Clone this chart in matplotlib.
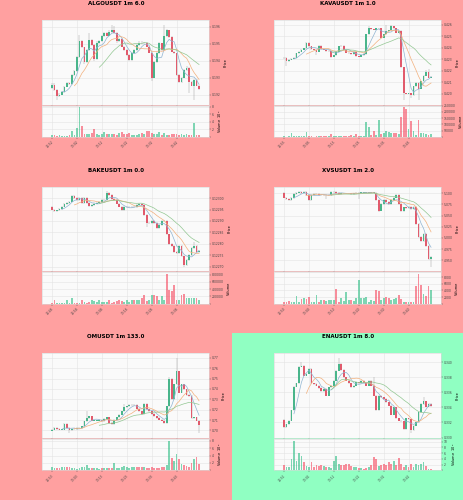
import numpy as np
import pandas as pd
import matplotlib
matplotlib.use("Agg")
import matplotlib.pyplot as plt
from matplotlib.ticker import MultipleLocator, FuncFormatter, FormatStrFormatter

# ---- ALGOUSDT ----
algo_open0 = 0.1924
algo_close = [0.1926, 0.19228, 0.19194, 0.192, 0.19214, 0.19248, 0.19268, 0.19264, 0.19314, 0.19338,
              0.1942, 0.19514, 0.1948, 0.19394, 0.19464, 0.1952, 0.19494, 0.19408, 0.19508, 0.19514,
              0.19544, 0.19564, 0.19548, 0.19572, 0.19584, 0.19564, 0.19514, 0.19528, 0.19484, 0.19464,
              0.19434, 0.19404, 0.19444, 0.19464, 0.19494, 0.19508, 0.19504, 0.19508, 0.19484, 0.19448,
              0.193, 0.19394, 0.19444, 0.19504, 0.19464, 0.19544, 0.1958, 0.1954, 0.19454, 0.19444,
              0.19314, 0.19274, 0.193, 0.19344, 0.1936, 0.19274, 0.19254, 0.19288, 0.19254, 0.19234]
algo_high = [0.19268, 0.19268, 0.19232, 0.19208, 0.1922, 0.19254, 0.19274, 0.19276, 0.1932, 0.19346,
             0.19428, 0.1955, 0.19524, 0.19484, 0.1947, 0.19566, 0.19526, 0.195, 0.19514, 0.1952,
             0.1955, 0.1957, 0.19572, 0.1958, 0.19614, 0.19604, 0.1957, 0.19536, 0.19532, 0.1949,
             0.19468, 0.1944, 0.1945, 0.1947, 0.195, 0.19514, 0.19514, 0.19512, 0.19512, 0.1949,
             0.19452, 0.194, 0.1945, 0.1951, 0.19508, 0.19614, 0.19586, 0.19584, 0.19544, 0.1946,
             0.19448, 0.1932, 0.19306, 0.1935, 0.1937, 0.19364, 0.1928, 0.19294, 0.19292, 0.19258]
algo_low = [0.19232, 0.1922, 0.19168, 0.19186, 0.19196, 0.1921, 0.19244, 0.1926, 0.1926, 0.1931,
            0.19334, 0.19414, 0.19476, 0.19384, 0.19388, 0.1946, 0.19488, 0.194, 0.19404, 0.19502,
            0.1951, 0.1954, 0.19544, 0.19544, 0.19566, 0.1956, 0.19508, 0.1951, 0.1948, 0.1946,
            0.1943, 0.194, 0.194, 0.1944, 0.1946, 0.1949, 0.195, 0.195, 0.1948, 0.19444,
            0.1928, 0.19296, 0.1939, 0.1944, 0.1946, 0.1946, 0.1954, 0.19536, 0.1945, 0.1944,
            0.1931, 0.1927, 0.1927, 0.19296, 0.1934, 0.1921, 0.1925, 0.1917, 0.1925, 0.1923]
algo_vol = [0.4e5, 0.5e5, 0.3e5, 0.5e5, 0.3e5, 0.2e5, 0.3e5, 0.4e5, 1.6e5, 0.6e5,
            2.5e5, 7.8e5, 2.9e5, 0.9e5, 0.9e5, 0.8e5, 1.0e5, 2.1e5, 0.8e5, 0.6e5,
            0.9e5, 1.2e5, 0.8e5, 0.7e5, 0.7e5, 0.8e5, 0.6e5, 1.0e5, 1.2e5, 0.8e5,
            0.8e5, 1.0e5, 0.6e5, 0.5e5, 0.5e5, 0.9e5, 1.1e5, 0.7e5, 1.5e5, 1.6e5,
            1.1e5, 0.9e5, 0.7e5, 1.2e5, 0.6e5, 1.0e5, 0.6e5, 0.6e5, 0.8e5, 0.9e5,
            0.8e5, 0.6e5, 0.8e5, 0.6e5, 0.8e5, 0.5e5, 0.5e5, 3.6e5, 0.4e5, 0.4e5]
algo_times = ["12:52", "13:02", "13:12", "13:22", "13:32", "13:42"]

# ---- KAVAUSDT ----
kava_open0 = 0.4231
kava_close = [0.42314, 0.42281, 0.42296, 0.42305, 0.42314, 0.4235, 0.42365, 0.4238, 0.42395, 0.4244,
              0.4241, 0.42386, 0.4238, 0.42365, 0.42416, 0.42386, 0.4238, 0.4237, 0.42374, 0.4232,
              0.42335, 0.42365, 0.4241, 0.42416, 0.4238, 0.42356, 0.4235, 0.42344, 0.42365, 0.42326,
              0.4232, 0.42335, 0.42344, 0.42515, 0.42566, 0.4256, 0.42554, 0.42566, 0.42566, 0.42485,
              0.42515, 0.42545, 0.4255, 0.42584, 0.42566, 0.4253, 0.42545, 0.4223, 0.42005, 0.42,
              0.42005, 0.4199, 0.42065, 0.42095, 0.42044, 0.4211, 0.42155, 0.42185, 0.4214, 0.42146]
kava_high = [0.4232, 0.42318, 0.42302, 0.4231, 0.4232, 0.42356, 0.4237, 0.42386, 0.424, 0.42448,
             0.42446, 0.42415, 0.4239, 0.42384, 0.42422, 0.4242, 0.4239, 0.42384, 0.4238, 0.42378,
             0.4234, 0.4237, 0.42416, 0.4242, 0.4242, 0.42384, 0.4236, 0.42354, 0.4237, 0.4237,
             0.4233, 0.4234, 0.4235, 0.4252, 0.4259, 0.4257, 0.42564, 0.4257, 0.4257, 0.4257,
             0.4252, 0.42595, 0.42556, 0.426, 0.4259, 0.4257, 0.4255, 0.4255, 0.42235, 0.4201,
             0.4201, 0.4201, 0.4207, 0.421, 0.421, 0.42115, 0.4216, 0.4221, 0.42215, 0.4215]
kava_low = [0.423, 0.42245, 0.42276, 0.4229, 0.423, 0.4231, 0.42345, 0.4236, 0.42376, 0.4239,
            0.42404, 0.4238, 0.42376, 0.42336, 0.4236, 0.4238, 0.42376, 0.42366, 0.42366, 0.42314,
            0.42316, 0.4233, 0.4236, 0.42404, 0.42376, 0.4235, 0.42346, 0.4234, 0.4234, 0.4232,
            0.42316, 0.42316, 0.4233, 0.4234, 0.4251, 0.42554, 0.4255, 0.4255, 0.4256, 0.4248,
            0.4248, 0.4251, 0.4254, 0.42546, 0.4256, 0.42526, 0.42526, 0.42225, 0.41945, 0.41995,
            0.41995, 0.4196, 0.41985, 0.4206, 0.4195, 0.4204, 0.42106, 0.4215, 0.42136, 0.42136]
kava_vol = [5000, 3000, 5000, 30000, 8000, 6000, 5000, 8000, 5000, 36000,
            6000, 8000, 3000, 10000, 8000, 5000, 6000, 10000, 8000, 26000,
            5000, 6000, 6000, 5000, 8000, 5000, 10000, 12000, 8000, 20000,
            6000, 8000, 5000, 120000, 82000, 15000, 51000, 13000, 136000, 26000,
            31000, 51000, 36000, 31000, 33000, 31000, 26000, 160000, 236000, 223000,
            64000, 128000, 51000, 18000, 136000, 31000, 31000, 26000, 18000, 26000]
kava_times = ["12:55", "13:05", "13:15", "13:25", "13:35", "13:45"]

# ---- BAKEUSDT ----
bake_open0 = 0.122961
bake_close = [0.12295, 0.122943, 0.122946, 0.122954, 0.122963, 0.122973, 0.122979, 0.122985, 0.12301, 0.123,
              0.122991, 0.123, 0.12298, 0.123, 0.12298, 0.122966, 0.12297, 0.122976, 0.12298, 0.122985,
              0.12299, 0.122993, 0.123023, 0.123014, 0.122995, 0.12299, 0.122976, 0.122963, 0.122946, 0.12296,
              0.12296, 0.12296, 0.122963, 0.12296, 0.12297, 0.122976, 0.12297, 0.122925, 0.12289, 0.12289,
              0.1229, 0.12289, 0.122871, 0.122883, 0.1229, 0.122901, 0.122841, 0.1228, 0.12279, 0.122763,
              0.12276, 0.12279, 0.122745, 0.12271, 0.12273, 0.12275, 0.122781, 0.12279, 0.122763, 0.12277]
bake_high = [0.122966, 0.122954, 0.12295, 0.122958, 0.122967, 0.122977, 0.122983, 0.122989, 0.123015, 0.123014,
             0.123004, 0.123004, 0.123004, 0.123004, 0.123004, 0.122984, 0.122974, 0.12298, 0.122984, 0.122989,
             0.122994, 0.122997, 0.12303, 0.123027, 0.123018, 0.122999, 0.122994, 0.12298, 0.122967, 0.122964,
             0.122964, 0.122964, 0.122967, 0.122967, 0.122974, 0.12298, 0.12298, 0.122974, 0.122929, 0.122894,
             0.122904, 0.122904, 0.122894, 0.122887, 0.122904, 0.122905, 0.122905, 0.122845, 0.122804, 0.122794,
             0.122767, 0.122794, 0.122794, 0.122749, 0.122734, 0.122754, 0.122785, 0.12281, 0.122794, 0.122774]
bake_low = [0.122946, 0.122938, 0.12294, 0.122942, 0.12295, 0.12296, 0.12297, 0.122975, 0.122981, 0.122996,
            0.122987, 0.122987, 0.122976, 0.122976, 0.122976, 0.122962, 0.122962, 0.122966, 0.122972, 0.122976,
            0.122981, 0.122986, 0.122989, 0.12301, 0.122991, 0.122986, 0.122972, 0.122959, 0.122942, 0.122942,
            0.122956, 0.122956, 0.122956, 0.122956, 0.122956, 0.122966, 0.122966, 0.122921, 0.122875, 0.122886,
            0.122886, 0.122886, 0.122867, 0.122867, 0.122879, 0.122896, 0.122837, 0.122796, 0.122786, 0.122759,
            0.122756, 0.122756, 0.122741, 0.1227, 0.122703, 0.122726, 0.122746, 0.122777, 0.122759, 0.122759]
bake_vol = [18000, 90000, 18000, 18000, 18000, 18000, 110000, 18000, 155000, 18000,
            18000, 18000, 110000, 36000, 18000, 36000, 90000, 72000, 55000, 90000,
            36000, 55000, 36000, 90000, 18000, 55000, 72000, 90000, 72000, 55000,
            90000, 55000, 110000, 90000, 90000, 90000, 145000, 245000, 72000, 110000,
            227000, 236000, 200000, 90000, 200000, 110000, 818000, 382000, 345000, 527000,
            90000, 90000, 236000, 254000, 145000, 145000, 163000, 163000, 163000, 90000]
bake_times = ["12:48", "12:58", "13:08", "13:18", "13:28", "13:38"]

# ---- XVSUSDT ----
xvs_open0 = 5.100
xvs_close = [5.090, 5.087, 5.085, 5.089, 5.098, 5.100, 5.102, 5.100, 5.102, 5.095,
             5.085, 5.095, 5.098, 5.098, 5.095, 5.096, 5.095, 5.095, 5.096, 5.102,
             5.102, 5.101, 5.098, 5.099, 5.099, 5.099, 5.099, 5.098, 5.099, 5.100,
             5.101, 5.101, 5.101, 5.101, 5.101, 5.101, 5.101, 5.084, 5.061, 5.076,
             5.084, 5.080, 5.076, 5.084, 5.090, 5.095, 5.076, 5.060, 5.068, 5.066,
             5.070, 5.064, 5.070, 5.031, 5.003, 4.994, 5.009, 4.983, 4.953, 4.958]
xvs_high = [5.102, 5.092, 5.089, 5.091, 5.100, 5.102, 5.104, 5.104, 5.104, 5.104,
            5.097, 5.097, 5.100, 5.100, 5.100, 5.098, 5.098, 5.097, 5.098, 5.104,
            5.104, 5.104, 5.103, 5.101, 5.101, 5.101, 5.101, 5.101, 5.101, 5.102,
            5.103, 5.103, 5.103, 5.103, 5.103, 5.103, 5.103, 5.103, 5.086, 5.078,
            5.086, 5.086, 5.082, 5.086, 5.092, 5.097, 5.097, 5.078, 5.070, 5.070,
            5.072, 5.072, 5.072, 5.072, 5.033, 5.005, 5.011, 5.011, 4.985, 4.960]
xvs_low = [5.088, 5.084, 5.082, 5.083, 5.087, 5.096, 5.099, 5.098, 5.098, 5.093,
           5.083, 5.083, 5.093, 5.096, 5.093, 5.093, 5.093, 5.087, 5.093, 5.094,
           5.100, 5.099, 5.096, 5.096, 5.097, 5.097, 5.097, 5.096, 5.096, 5.097,
           5.087, 5.099, 5.099, 5.099, 5.099, 5.099, 5.099, 5.082, 5.058, 5.059,
           5.074, 5.078, 5.074, 5.074, 5.082, 5.088, 5.074, 5.058, 5.058, 5.064,
           5.064, 5.062, 5.062, 5.029, 5.001, 4.990, 4.992, 4.981, 4.950, 4.936]
xvs_vol = [400, 600, 800, 600, 600, 2200, 600, 1500, 1700, 1400,
           2000, 400, 400, 2500, 600, 1200, 1000, 800, 1000, 1200,
           1200, 4500, 600, 1800, 800, 3500, 1000, 1000, 800, 1600,
           7200, 1600, 1800, 2000, 600, 1000, 800, 4000, 3800, 1000,
           1800, 2000, 1600, 1200, 1400, 1800, 2500, 1400, 600, 400,
           400, 600, 400, 5300, 8900, 5600, 3000, 2200, 5300, 4100]
xvs_times = ["12:50", "13:00", "13:10", "13:20", "13:30", "13:40"]

# ---- OMUSDT ----
om_open0 = 0.6996
om_close = [0.7006, 0.7023, 0.7013, 0.7006, 0.7006, 0.7062, 0.7023, 0.7000, 0.7013, 0.7013,
            0.7023, 0.7023, 0.7039, 0.7088, 0.7120, 0.7137, 0.7094, 0.7094, 0.7094, 0.7104,
            0.7088, 0.7114, 0.7127, 0.7071, 0.7062, 0.7104, 0.7127, 0.7153, 0.7185, 0.7224,
            0.7234, 0.7244, 0.7244, 0.7244, 0.7211, 0.7185, 0.7159, 0.7257, 0.7202, 0.7185,
            0.7159, 0.7137, 0.7120, 0.7104, 0.7094, 0.7071, 0.7234, 0.7495, 0.7299, 0.7446,
            0.7570, 0.7365, 0.7446, 0.7397, 0.7342, 0.7332, 0.7120, 0.7127, 0.7094, 0.7055]
om_high = [0.7012, 0.7029, 0.7029, 0.7019, 0.7012, 0.7068, 0.7068, 0.7029, 0.7019, 0.7019,
           0.7029, 0.7029, 0.7045, 0.7094, 0.7185, 0.7143, 0.7143, 0.7100, 0.7100, 0.7110,
           0.7110, 0.7120, 0.7133, 0.7133, 0.7077, 0.7110, 0.7133, 0.7159, 0.7191, 0.7250,
           0.7240, 0.7250, 0.7250, 0.7250, 0.7250, 0.7217, 0.7191, 0.7263, 0.7263, 0.7208,
           0.7191, 0.7165, 0.7143, 0.7126, 0.7110, 0.7100, 0.7240, 0.7520, 0.7501, 0.7452,
           0.7700, 0.7576, 0.7452, 0.7452, 0.7403, 0.7348, 0.7338, 0.7133, 0.7133, 0.7100]
om_low = [0.6990, 0.7000, 0.7007, 0.7000, 0.7000, 0.7000, 0.7017, 0.6974, 0.6994, 0.7007,
          0.7007, 0.7017, 0.7017, 0.7033, 0.7082, 0.7114, 0.7088, 0.7088, 0.7088, 0.7088,
          0.7082, 0.7082, 0.7108, 0.7065, 0.7056, 0.7056, 0.7098, 0.7121, 0.7147, 0.7179,
          0.7218, 0.7228, 0.7238, 0.7238, 0.7205, 0.7179, 0.7153, 0.7153, 0.7196, 0.7179,
          0.7153, 0.7131, 0.7114, 0.7098, 0.7088, 0.7065, 0.7065, 0.7228, 0.7293, 0.7293,
          0.7440, 0.7359, 0.7359, 0.7391, 0.7336, 0.7326, 0.7114, 0.7114, 0.7088, 0.6970]
om_vol = [0.8e5, 0.6e5, 0.6e5, 0.7e5, 0.8e5, 0.9e5, 1.0e5, 0.8e5, 0.5e5, 0.5e5,
          0.4e5, 0.6e5, 0.9e5, 0.8e5, 1.5e5, 0.7e5, 0.6e5, 0.5e5, 0.6e5, 0.4e5,
          0.5e5, 0.6e5, 0.7e5, 0.7e5, 0.6e5, 2.0e5, 0.6e5, 0.7e5, 0.9e5, 1.1e5,
          0.9e5, 0.7e5, 0.8e5, 0.9e5, 0.9e5, 0.8e5, 0.9e5, 0.8e5, 0.7e5, 0.6e5,
          0.8e5, 0.6e5, 0.5e5, 0.5e5, 0.9e5, 0.8e5, 1.4e5, 8.0e5, 3.4e5, 2.4e5,
          4.4e5, 3.0e5, 1.7e5, 1.4e5, 1.3e5, 1.0e5, 2.0e5, 3.0e5, 3.6e5, 1.8e5]
om_times = ["12:53", "13:03", "13:13", "13:23", "13:33", "13:43"]

# ---- ENAUSDT ----
ena_open0 = 0.33232
ena_close = [0.33134, 0.33179, 0.33223, 0.33365, 0.33676, 0.3372, 0.33942, 0.33956, 0.33822, 0.33845,
             0.33911, 0.3372, 0.33711, 0.33689, 0.33658, 0.33614, 0.33645, 0.33556, 0.33667, 0.33689,
             0.33756, 0.33889, 0.33978, 0.33898, 0.338, 0.33756, 0.3372, 0.33667, 0.33689, 0.33734,
             0.3372, 0.33756, 0.3372, 0.33689, 0.33756, 0.33689, 0.33556, 0.33365, 0.33556, 0.33534,
             0.33512, 0.33467, 0.33423, 0.33303, 0.33401, 0.33259, 0.33223, 0.33214, 0.33112, 0.33259,
             0.33245, 0.33099, 0.33156, 0.33201, 0.33334, 0.33445, 0.33481, 0.33409, 0.33445, 0.33418]
ena_high = [0.33245, 0.33185, 0.3323, 0.33372, 0.33684, 0.33728, 0.3395, 0.34, 0.33964, 0.33852,
            0.33918, 0.33918, 0.33728, 0.33718, 0.33696, 0.33666, 0.33652, 0.33652, 0.33674, 0.33696,
            0.33764, 0.33896, 0.34058, 0.33986, 0.33905, 0.33808, 0.33764, 0.33728, 0.33696, 0.33742,
            0.33742, 0.33764, 0.33764, 0.33728, 0.33764, 0.33764, 0.338, 0.33564, 0.33564, 0.33564,
            0.33542, 0.3352, 0.33474, 0.3343, 0.33408, 0.33408, 0.33266, 0.3323, 0.33222, 0.33266,
            0.33266, 0.33252, 0.33163, 0.33208, 0.33342, 0.33452, 0.33534, 0.33488, 0.33452, 0.33452]
ena_low = [0.33125, 0.33128, 0.33172, 0.33216, 0.33358, 0.33668, 0.33712, 0.33934, 0.33814, 0.33815,
           0.33838, 0.33712, 0.33703, 0.33681, 0.3365, 0.33606, 0.33606, 0.33548, 0.33548, 0.3366,
           0.33682, 0.33748, 0.33882, 0.3389, 0.33792, 0.33748, 0.33712, 0.3366, 0.3366, 0.33682,
           0.33712, 0.33712, 0.33712, 0.33681, 0.33682, 0.33681, 0.33548, 0.33358, 0.33358, 0.33526,
           0.33504, 0.3346, 0.33415, 0.33296, 0.33296, 0.33252, 0.33215, 0.33206, 0.33104, 0.33104,
           0.33238, 0.33054, 0.33092, 0.33148, 0.33194, 0.33326, 0.33438, 0.33402, 0.33402, 0.3341]
ena_vol = [1.7e5, 1.2e5, 1.2e5, 4.0e5, 10.3e5, 3.4e5, 5.9e5, 5.0e5, 3.0e5, 1.4e5,
           1.2e5, 2.8e5, 1.2e5, 1.7e5, 1.4e5, 1.9e5, 1.4e5, 1.2e5, 1.2e5, 0.8e5,
           3.2e5, 5.0e5, 2.3e5, 1.9e5, 1.7e5, 2.3e5, 2.1e5, 1.4e5, 1.2e5, 1.2e5,
           0.8e5, 0.8e5, 0.6e5, 0.8e5, 1.0e5, 1.9e5, 4.8e5, 4.0e5, 1.4e5, 1.9e5,
           2.1e5, 1.7e5, 2.8e5, 2.1e5, 3.2e5, 1.9e5, 4.3e5, 2.3e5, 1.2e5, 1.9e5,
           1.2e5, 2.1e5, 1.0e5, 2.1e5, 1.7e5, 2.1e5, 2.9e5, 1.4e5, 0.5e5, 0.6e5]
ena_times = ["12:51", "13:01", "13:11", "13:21", "13:31", "13:41"]

UP = "#2ebd85"
DOWN = "#f6465d"
MA_COLORS = ["#8fb4d2", "#f2b07c", "#92c792"]
PINK = "#ffa0a0"
MINT = "#90ffc2"


def draw_panel(sf, title, open0, close, high, low, vol, times, pstep, pfmt, vstep, vexp):
    close = np.array(close)
    high = np.array(high)
    low = np.array(low)
    vol = np.array(vol)
    opn = np.concatenate([[open0], close[:-1]])
    x = np.arange(len(close))
    colors = np.where(close >= opn, UP, DOWN)

    axp = sf.add_axes([0.181, 0.372, 0.72, 0.508])
    axv = sf.add_axes([0.181, 0.178, 0.72, 0.188], sharex=axp)
    for ax in (axp, axv):
        ax.set_facecolor("#fafafa")
        ax.grid(True, color="#e4e4e4", lw=0.4)
        ax.set_axisbelow(True)
        ax.yaxis.tick_right()
        ax.yaxis.set_label_position("right")
        ax.tick_params(labelsize=2.2, length=1.2, width=0.3, pad=1, colors="#444444")
        for s in ax.spines.values():
            s.set_color("#d8d8d8")
            s.set_linewidth(0.4)

    # candles
    span = high.max() - low.min()
    axp.vlines(x, low, high, colors="#a0a0a0", lw=0.35)
    body = np.maximum(np.abs(close - opn), span * 0.004)
    axp.bar(x, body, bottom=np.minimum(opn, close), width=0.7, color=colors, lw=0)
    for w, c in zip((5, 10, 20), MA_COLORS):
        ma = pd.Series(close).rolling(w).mean()
        axp.plot(x, ma, color=c, lw=0.5)
    pad = 0.06 * span
    axp.set_ylim(low.min() - pad, high.max() + pad)
    axp.yaxis.set_major_locator(MultipleLocator(pstep))
    axp.yaxis.set_major_formatter(FormatStrFormatter(pfmt))
    axp.set_ylabel("Price", fontsize=2.5, labelpad=2)
    axp.tick_params(axis="x", labelbottom=False)

    # volume
    axv.bar(x, vol, width=0.7, color=colors, alpha=0.6, lw=0)
    axv.set_ylim(0, vol.max() * 1.06)
    axv.yaxis.set_major_locator(MultipleLocator(vstep))
    axv.yaxis.set_major_formatter(
        FuncFormatter(lambda v, p: "" if v == 0 else f"{v / 10 ** vexp:g}"))
    label = "Volume" if vexp == 0 else f"Volume  $10^{{{vexp}}}$"
    axv.set_ylabel(label, fontsize=2.5, labelpad=2)
    axv.set_xlim(-4, 63)
    axv.set_xticks(x[::10])
    axv.set_xticklabels(times, rotation=45, ha="right", rotation_mode="anchor")

    sf.text(0.5, 0.978, title, ha="center", va="center", fontsize=4, fontweight="bold")


fig = plt.figure(figsize=(4.64, 5.0), dpi=100, facecolor=PINK)
sfs = fig.subfigures(3, 2, wspace=0, hspace=0)

panels = [
    ("ALGOUSDT 1m 6.0", algo_open0, algo_close, algo_high, algo_low, algo_vol, algo_times, 0.001, "%.3f", 2e5, 5),
    ("KAVAUSDT 1m 1.0", kava_open0, kava_close, kava_high, kava_low, kava_vol, kava_times, 0.001, "%.3f", 50000, 0),
    ("BAKEUSDT 1m 0.0", bake_open0, bake_close, bake_high, bake_low, bake_vol, bake_times, 0.00005, "%.5f", 200000, 0),
    ("XVSUSDT 1m 2.0", xvs_open0, xvs_close, xvs_high, xvs_low, xvs_vol, xvs_times, 0.025, "%.3f", 2000, 0),
    ("OMUSDT 1m 133.0", om_open0, om_close, om_high, om_low, om_vol, om_times, 0.01, "%.2f", 2e5, 5),
    ("ENAUSDT 1m 8.0", ena_open0, ena_close, ena_high, ena_low, ena_vol, ena_times, 0.002, "%.3f", 2e5, 5),
]
bgs = [PINK, PINK, PINK, PINK, PINK, MINT]

for sf, p, bg in zip(sfs.flat, panels, bgs):
    sf.set_facecolor(bg)
    draw_panel(sf, *p)

fig.savefig("out.png", dpi=100)
